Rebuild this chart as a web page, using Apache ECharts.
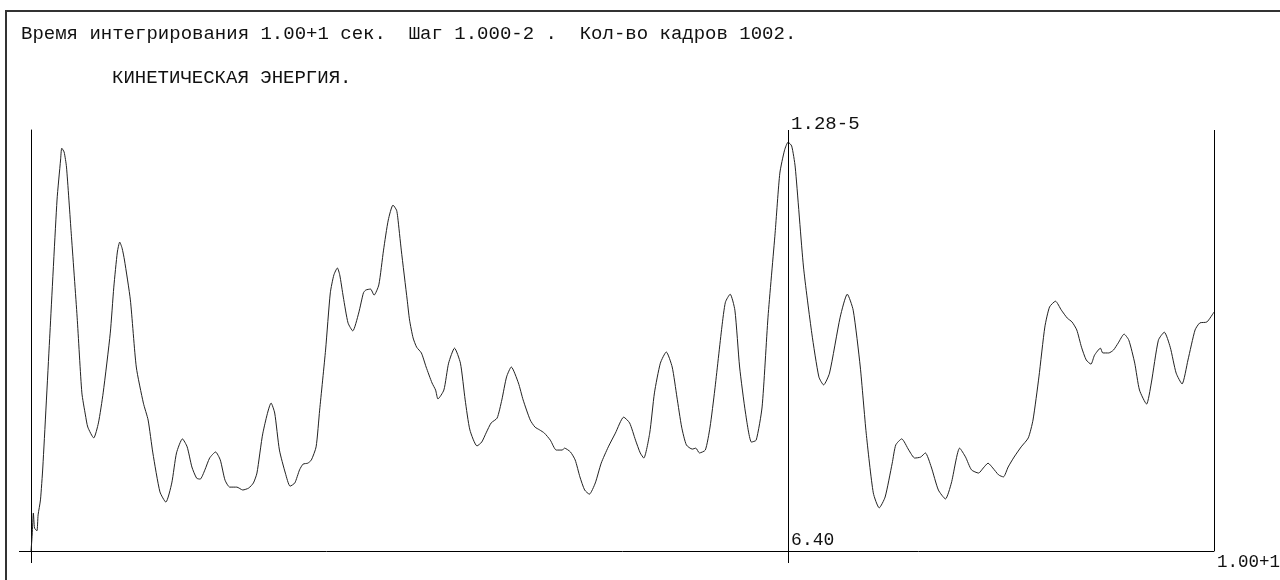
<!DOCTYPE html>
<html>
<head>
<meta charset="utf-8">
<script src="https://cdn.jsdelivr.net/npm/echarts@6/dist/echarts.min.js"></script>
<style>
html, body { margin: 0; padding: 0; background: #fff; }
#main { width: 1280px; height: 580px; }
</style>
</head>
<body>
<div id="main"></div>
<script>
// время, сек
var times = [
	0, 0.01, 0.02, 0.03, 0.05, 0.06, 0.08, 0.10, 0.16, 0.22, 0.25, 0.26, 0.28, 0.30, 0.34, 0.39, 0.43, 0.46, 0.48, 0.53,
	0.57, 0.61, 0.67, 0.70, 0.73, 0.75, 0.77, 0.79, 0.84, 0.89, 0.95, 0.99, 1.03, 1.09, 1.14, 1.19, 1.23, 1.28, 1.32, 1.36,
	1.40, 1.43, 1.47, 1.51, 1.56, 1.60, 1.64, 1.68, 1.74, 1.79, 1.84, 1.88, 1.91, 1.96, 2.03, 2.06, 2.10, 2.15, 2.19, 2.23,
	2.27, 2.30, 2.34, 2.37, 2.41, 2.44, 2.49, 2.53, 2.56, 2.59, 2.61, 2.64, 2.68, 2.72, 2.77, 2.81, 2.83, 2.87, 2.90, 2.94,
	2.98, 3.02, 3.06, 3.09, 3.10, 3.13, 3.18, 3.20, 3.23, 3.26, 3.30, 3.34, 3.39, 3.42, 3.44, 3.49, 3.53, 3.58, 3.63, 3.67,
	3.71, 3.77, 3.81, 3.85, 3.89, 3.94, 3.98, 4.02, 4.06, 4.12, 4.16, 4.22, 4.26, 4.30, 4.34, 4.39, 4.44, 4.49, 4.51, 4.56,
	4.60, 4.64, 4.68, 4.72, 4.77, 4.82, 4.88, 4.94, 5.01, 5.06, 5.11, 5.15, 5.18, 5.23, 5.27, 5.32, 5.37, 5.42, 5.46, 5.50,
	5.54, 5.59, 5.62, 5.65, 5.70, 5.74, 5.78, 5.84, 5.87, 5.91, 5.95, 5.99, 6.04, 6.09, 6.13, 6.18, 6.23, 6.29, 6.33, 6.37,
	6.40, 6.43, 6.46, 6.53, 6.60, 6.66, 6.70, 6.75, 6.84, 6.90, 6.95, 7.01, 7.06, 7.12, 7.17, 7.22, 7.28, 7.31, 7.36, 7.42,
	7.47, 7.52, 7.56, 7.61, 7.67, 7.73, 7.78, 7.85, 7.90, 7.95, 8.01, 8.05, 8.09, 8.13, 8.18, 8.22, 8.26, 8.31, 8.37, 8.43,
	8.47, 8.52, 8.57, 8.61, 8.66, 8.71, 8.76, 8.80, 8.84, 8.88, 8.92, 8.96, 8.99, 9.04, 9.06, 9.11, 9.15, 9.19, 9.24, 9.28,
	9.33, 9.37, 9.43, 9.47, 9.53, 9.58, 9.63, 9.68, 9.73, 9.78, 9.84, 9.88, 9.94, 10.00
];

// кинетическая энергия, единицы 1e-5
var energy = [
	0, 0.050, 0.119, 0.072, 0.063, 0.113, 0.160, 0.263, 0.682, 1.099, 1.224, 1.261, 1.249, 1.202, 0.995, 0.732, 0.495, 0.426, 0.388, 0.354,
	0.401, 0.495, 0.682, 0.826, 0.936, 0.967, 0.948, 0.911, 0.786, 0.576, 0.463, 0.410, 0.307, 0.185, 0.153, 0.213, 0.307, 0.351, 0.326, 0.263,
	0.228, 0.225, 0.254, 0.291, 0.310, 0.285, 0.222, 0.200, 0.200, 0.191, 0.197, 0.213, 0.244, 0.369, 0.463, 0.432, 0.316, 0.244, 0.203, 0.213,
	0.254, 0.272, 0.275, 0.285, 0.326, 0.441, 0.629, 0.808, 0.864, 0.886, 0.864, 0.795, 0.714, 0.689, 0.745, 0.808, 0.817, 0.820, 0.801, 0.833,
	0.942, 1.036, 1.083, 1.067, 1.045, 0.942, 0.786, 0.723, 0.667, 0.638, 0.620, 0.576, 0.526, 0.504, 0.476, 0.504, 0.588, 0.635, 0.588, 0.473,
	0.379, 0.329, 0.341, 0.372, 0.401, 0.416, 0.473, 0.545, 0.576, 0.526, 0.473, 0.410, 0.388, 0.379, 0.369, 0.347, 0.316, 0.316, 0.322, 0.310,
	0.285, 0.232, 0.191, 0.178, 0.213, 0.275, 0.326, 0.369, 0.419, 0.401, 0.347, 0.307, 0.291, 0.369, 0.495, 0.588, 0.623, 0.576, 0.482, 0.388,
	0.332, 0.319, 0.322, 0.307, 0.316, 0.388, 0.504, 0.701, 0.779, 0.804, 0.754, 0.576, 0.432, 0.341, 0.347, 0.451, 0.732, 0.995, 1.183, 1.255,
	1.280, 1.268, 1.202, 0.889, 0.682, 0.545, 0.520, 0.557, 0.732, 0.804, 0.754, 0.576, 0.369, 0.182, 0.135, 0.169, 0.275, 0.332, 0.351, 0.316,
	0.291, 0.294, 0.307, 0.263, 0.191, 0.163, 0.213, 0.322, 0.294, 0.254, 0.244, 0.260, 0.275, 0.260, 0.238, 0.232, 0.263, 0.294, 0.326, 0.354,
	0.410, 0.545, 0.701, 0.764, 0.782, 0.754, 0.729, 0.717, 0.692, 0.638, 0.598, 0.585, 0.613, 0.635, 0.620, 0.620, 0.629, 0.651, 0.679, 0.660,
	0.588, 0.504, 0.460, 0.526, 0.660, 0.685, 0.638, 0.557, 0.523, 0.598, 0.692, 0.714, 0.717, 0.748
];

var headerText = 'Время интегрирования 1.00+1 сек.  Шаг 1.000-2 .  Кол-во кадров 1002.';
var titleText = 'КИНЕТИЧЕСКАЯ ЭНЕРГИЯ.';
var peakTime = 6.40;
var peakLabel = '1.28-5';
var peakTimeLabel = '6.40';
var endTimeLabel = '1.00+1';

var FONT = 'Liberation Mono';
var INK = '#111';

var chart = echarts.init(document.getElementById('main'));

var points = [];
for (var i = 0; i < times.length; i++) {
	points.push([times[i], energy[i]]);
}

var option = {
	backgroundColor: '#fff',
	animation: false,
	title: [
		{
			text: headerText,
			left: 21,
			top: 24,
			padding: 0,
			textStyle: { fontFamily: FONT, fontSize: 19, fontWeight: 'normal', color: INK }
		},
		{
			text: titleText,
			left: 112,
			top: 68,
			padding: 0,
			textStyle: { fontFamily: FONT, fontSize: 19, fontWeight: 'normal', color: INK }
		}
	],
	// рамка листа
	graphic: [
		{
			type: 'rect',
			shape: { x: 6, y: 11, width: 1400, height: 700 },
			style: { fill: 'none', stroke: '#333', lineWidth: 2 },
			silent: true
		}
	],
	grid: {
		left: 31,
		right: 66,
		top: 130,
		bottom: 29,
		containLabel: false,
		outerBoundsMode: 'none'
	},
	xAxis: {
		type: 'value',
		min: 0,
		max: 10,
		name: endTimeLabel,
		nameLocation: 'end',
		nameGap: 3,
		nameTextStyle: {
			fontFamily: FONT, fontSize: 17.5, color: INK,
			align: 'left', verticalAlign: 'top', padding: [2, 0, 0, 0]
		},
		axisLine: { show: true, lineStyle: { color: '#000', width: 1 } },
		axisTick: {
			show: true,
			customValues: [0, peakTime],
			length: 12,
			lineStyle: { color: '#000', width: 1 }
		},
		axisLabel: {
			show: true,
			customValues: [peakTime],
			inside: true,
			margin: 2,
			align: 'left',
			padding: [0, 0, 0, 3],
			fontFamily: FONT,
			fontSize: 18,
			color: INK,
			formatter: function () { return peakTimeLabel; }
		},
		splitLine: { show: false }
	},
	yAxis: {
		type: 'value',
		min: 0,
		max: 1.318,
		axisLine: { show: true, lineStyle: { color: '#000', width: 1 } },
		axisTick: {
			show: true,
			customValues: [0],
			length: 12,
			lineStyle: { color: '#000', width: 1 }
		},
		axisLabel: { show: false },
		splitLine: { show: false }
	},
	series: [
		{
			type: 'line',
			data: points,
			showSymbol: false,
			smooth: 0.2,
			lineStyle: { color: '#222', width: 1 },
			silent: true,
			markLine: {
				silent: true,
				symbol: 'none',
				lineStyle: { color: '#000', width: 1, type: 'solid' },
				emphasis: { disabled: true },
				data: [
					{
						xAxis: peakTime,
						label: {
							show: true,
							position: 'end',
							formatter: peakLabel,
							align: 'left',
							verticalAlign: 'bottom',
							distance: [0, -3],
							padding: [0, 0, 0, 3],
							fontFamily: FONT,
							fontSize: 19,
							color: INK
						}
					},
					{
						xAxis: 10,
						label: { show: false }
					}
				]
			}
		}
	]
};

chart.setOption(option);
</script>
</body>
</html>
